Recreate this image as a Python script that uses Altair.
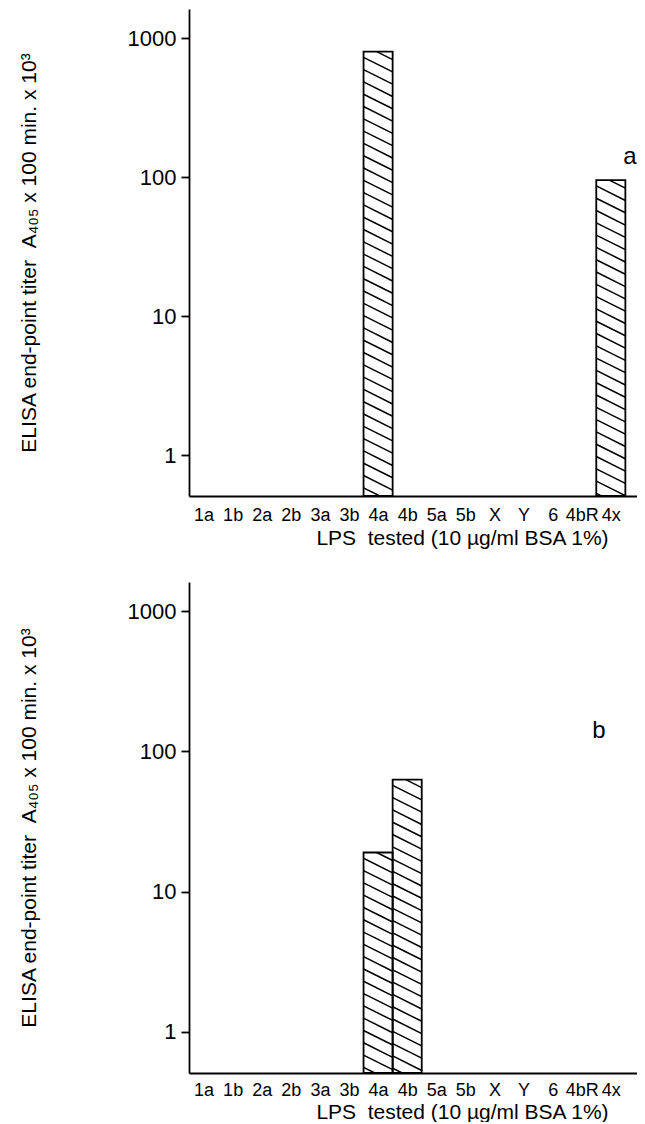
import json
import numpy as np
import pandas as pd
import altair as alt

# ---- data ----
categories = ["1a", "1b", "2a", "2b", "3a", "3b", "4a", "4b", "5a", "5b",
              "X", "Y", "6", "4bR", "4x"]
titer_a = [None, None, None, None, None, None, 800, None, None, None,
           None, None, None, None, 95]
titer_b = [None, None, None, None, None, None, 19, 63, None, None,
           None, None, None, None, None]
y_ticks = [1, 10, 100, 1000]
panel_letters = ["a", "b"]

x_title = "LPS\u00a0\u00a0tested (10 µg/ml BSA 1%)"
y_title = "ELISA end-point titer\u00a0\u00a0A₄₀₅ x 100 min. x 10³"

# ---- layout / style ----
Y_MIN, Y_MAX = 0.507, 1620
X_MAX = 15.4
W = 448
H_TOP = 487
H_BOT = 491
FONT = "Liberation Sans"


def bars_df(values):
    rows = []
    for i, (c, v) in enumerate(zip(categories, values)):
        if v is not None:
            rows.append({"cat": c, "x0": i, "x1": i + 1, "titer": v, "base": Y_MIN})
    return pd.DataFrame(rows)


def hatch_df(values, h):
    # diagonal hatching lines inside each bar (decoration of the fill)
    ppd = h / np.log10(Y_MAX / Y_MIN)
    ppu = W / X_MAX
    s = 12.3 / ppd
    d = 0.5 * ppu / ppd
    bot = np.log10(Y_MIN)
    rows = []
    for i, v in enumerate(values):
        if v is None:
            continue
        top = np.log10(v)
        L = top + 0.45 * d
        while L > bot:
            xa = i + max(0.0, (L - top) / d)
            la = min(L, top)
            xb = i + min(1.0, (L - bot) / d)
            lb = max(L - d, bot)
            if xa < i + 1:
                rows.append({"x": xa, "x2": xb, "y": 10 ** la, "y2": 10 ** lb})
            L -= s
    return pd.DataFrame(rows)


label_expr = f"{json.dumps(categories)}[floor(datum.value)]"


def panel(values, letter, h, letter_x, letter_y, lab_pad, title_pad):
    xscale = alt.Scale(domain=[0, X_MAX], nice=False, zero=False)
    yscale = alt.Scale(type="log", domain=[Y_MIN, Y_MAX], nice=False)
    xaxis = alt.Axis(
        values=[i + 0.5 for i in range(len(categories))],
        labelExpr=label_expr,
        title=x_title,
        ticks=False, tickSize=0, grid=False,
        labelFontSize=18, labelPadding=lab_pad, labelOverlap=False,
        titleFontSize=21, titleFontWeight="normal", titlePadding=title_pad,
        titleX=273, titleAlign="center",
        domainColor="black", domainWidth=1.8,
    )
    yaxis = alt.Axis(
        values=y_ticks, format="d", title=y_title,
        tickSize=8, tickColor="black", tickWidth=1.8,
        labelFontSize=22, labelPadding=5, grid=False,
        titleFontSize=21, titleFontWeight="normal", titlePadding=88,
        domainColor="black", domainWidth=1.8,
    )
    hatch = alt.Chart(hatch_df(values, h)).mark_rule(
        stroke="black", strokeWidth=1.5, clip=True
    ).encode(
        x=alt.X("x:Q", scale=xscale, axis=xaxis),
        x2="x2:Q",
        y=alt.Y("y:Q", scale=yscale, axis=yaxis),
        y2="y2:Q",
    )
    bars = alt.Chart(bars_df(values)).mark_rect(
        fill="transparent", stroke="black", strokeWidth=1.8
    ).encode(
        x=alt.X("x0:Q", scale=xscale, axis=xaxis),
        x2="x1:Q",
        y=alt.Y("titer:Q", scale=yscale, axis=yaxis),
        y2="base:Q",
    )
    txt = alt.Chart(pd.DataFrame({"t": [letter]})).mark_text(
        font=FONT, fontSize=24, color="black", align="center", baseline="middle"
    ).encode(x=alt.value(letter_x), y=alt.value(letter_y), text="t:N")
    return alt.layer(hatch, bars, txt).properties(width=W, height=h)


top = panel(titer_a, panel_letters[0], H_TOP, 441, 148, 10, 3)
bottom = panel(titer_b, panel_letters[1], H_BOT, 410, 149, 8, 2)

chart = alt.vconcat(top, bottom, spacing=34).properties(
    padding={"left": 10, "top": 1, "right": 0, "bottom": 0},
    background="white",
).configure_view(stroke="transparent", strokeWidth=0).configure_axis(
    labelFont=FONT, titleFont=FONT, labelColor="black", titleColor="black"
)

chart.save("out.html", embed_options={"renderer": "svg", "actions": False})
